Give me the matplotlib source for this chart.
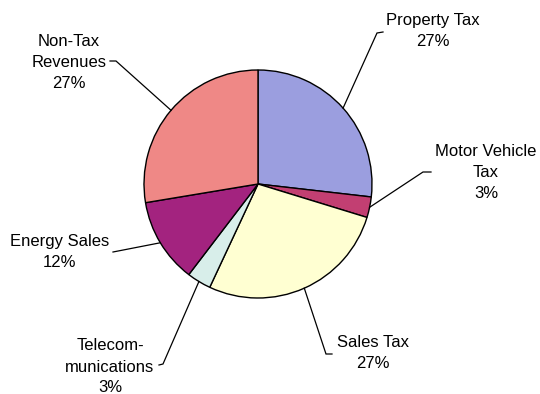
import numpy as np
import matplotlib
matplotlib.use("Agg")
import matplotlib.pyplot as plt

plt.rcParams["font.family"] = ["Liberation Sans", "DejaVu Sans"]

# revenue shares, percent
categories = ["Property Tax", "Motor Vehicle\nTax", "Sales Tax",
              "Telecom-\nmunications", "Energy Sales", "Non-Tax\nRevenues"]
shares = [26.6, 2.9, 27.0, 3.4, 11.9, 27.4]
colors = ["#9b9edf", "#c23f72", "#ffffd2", "#d8eeea", "#a3237f", "#ef8886"]

# label layout in pixels: text centre, leader elbow, leader end at the text
label_pos = [(433, 31), (486, 172), (373, 353), (110, 367), (60, 252), (69, 62)]
elbows = [(377, 33), (423, 172), (326, 354), (163, 364), (113, 252), (116, 61)]
ends = [(383, 32), (431, 172), (332, 354), (159, 365), (113, 252), (110, 61)]

W, H = 540, 394
fig = plt.figure(figsize=(W / 100, H / 100), dpi=100)
ax = fig.add_axes([0, 0, 1, 1])

cx, cy, r = 258, H - 184, 114
wedges, _ = ax.pie(shares, colors=colors, startangle=90, counterclock=False,
                   center=(cx, cy), radius=r, frame=True,
                   wedgeprops=dict(edgecolor="black", linewidth=1.0))
ax.set_xlim(0, W)
ax.set_ylim(0, H)
ax.axis("off")

for w, name, val, (tx, ty), (ex, ey), (lx, ly) in zip(
        wedges, categories, shares, label_pos, elbows, ends):
    mid = np.deg2rad((w.theta1 + w.theta2) / 2)
    sx, sy = cx + r * np.cos(mid), cy + r * np.sin(mid)
    ax.plot([sx, ex, lx], [sy, H - ey, H - ly], color="black", lw=0.9,
            solid_joinstyle="miter")
    ax.text(tx, H - ty, f"{name}\n{val:.0f}%", ha="center", va="center",
            multialignment="center", fontsize=12, linespacing=1.5)

fig.savefig("out.png", dpi=100)
